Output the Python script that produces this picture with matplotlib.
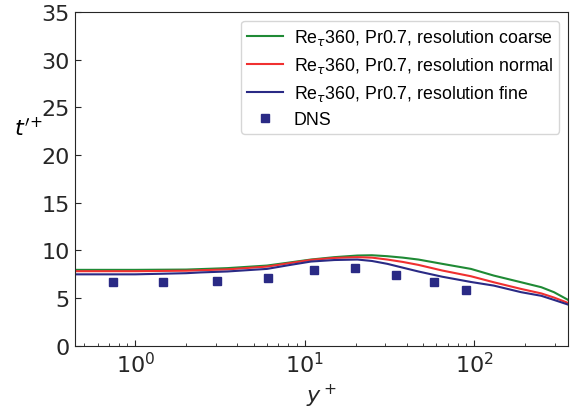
import matplotlib
matplotlib.use('Agg')
import matplotlib.pyplot as plt
import numpy as np

# y+ positions where the curves were read
yplus = [0.44, 1, 2, 2.43, 3.5, 6, 8, 10.9, 15, 20.5, 25, 30.8, 38, 47, 65, 96, 131, 190, 250, 297, 360]

t_coarse = [7.97, 7.97, 8.0, 8.05, 8.15, 8.42, 8.72, 9.05, 9.3, 9.47, 9.5, 9.4, 9.25, 9.05, 8.6, 8.07, 7.37, 6.67, 6.15, 5.63, 4.82]
t_normal = [7.83, 7.83, 7.88, 7.93, 8.02, 8.31, 8.65, 9.01, 9.22, 9.3, 9.25, 9.05, 8.8, 8.49, 7.9, 7.3, 6.67, 5.97, 5.5, 5.07, 4.5]
t_fine = [7.5, 7.5, 7.62, 7.7, 7.8, 8.07, 8.45, 8.84, 9.0, 9.05, 8.9, 8.6, 8.2, 7.8, 7.25, 6.7, 6.32, 5.63, 5.25, 4.82, 4.33]

# DNS reference points
dns_y = [0.738, 1.46, 3.04, 6.07, 11.3, 19.9, 34.9, 58, 90]
dns_t = [6.67, 6.67, 6.78, 7.16, 7.97, 8.18, 7.44, 6.67, 5.87]

fig = plt.figure(figsize=(5.71, 4.14), dpi=100)
ax = fig.add_axes([0.131, 0.162, 0.864, 0.807])

ax.plot(yplus, t_coarse, color='#1f8a35', lw=1.5, label=r'Re$_\tau$360, Pr0.7, resolution coarse')
ax.plot(yplus, t_normal, color='#f03030', lw=1.5, label=r'Re$_\tau$360, Pr0.7, resolution normal')
ax.plot(yplus, t_fine, color='#2a2a85', lw=1.5, label=r'Re$_\tau$360, Pr0.7, resolution fine')
ax.plot(dns_y, dns_t, 's', color='#2a2a85', ms=6, ls='none', label='DNS')

ax.set_xscale('log')
ax.set_xlim(0.44, 360)
ax.set_ylim(0, 35)
ax.set_yticks(np.arange(0, 36, 5))

ax.tick_params(which='both', direction='in', colors='#262626', labelsize=16)
ax.tick_params(which='major', length=4)
ax.tick_params(which='minor', length=2.5)
for s in ax.spines.values():
    s.set_color('#262626')
    s.set_linewidth(0.8)

ax.set_xlabel(r'$y^+$', fontsize=16, color='#262626')
ax.set_ylabel(r"$t'^{+}$", fontsize=16, rotation=0, color='black')
ax.yaxis.set_label_coords(-0.095, 0.62)

ax.legend(loc='upper right', prop={'family': 'Liberation Sans', 'size': 12.75},
          handlelength=2.0, handletextpad=0.6, labelspacing=0.45,
          borderpad=0.35, borderaxespad=0.5)

fig.savefig('out.png', dpi=100)
